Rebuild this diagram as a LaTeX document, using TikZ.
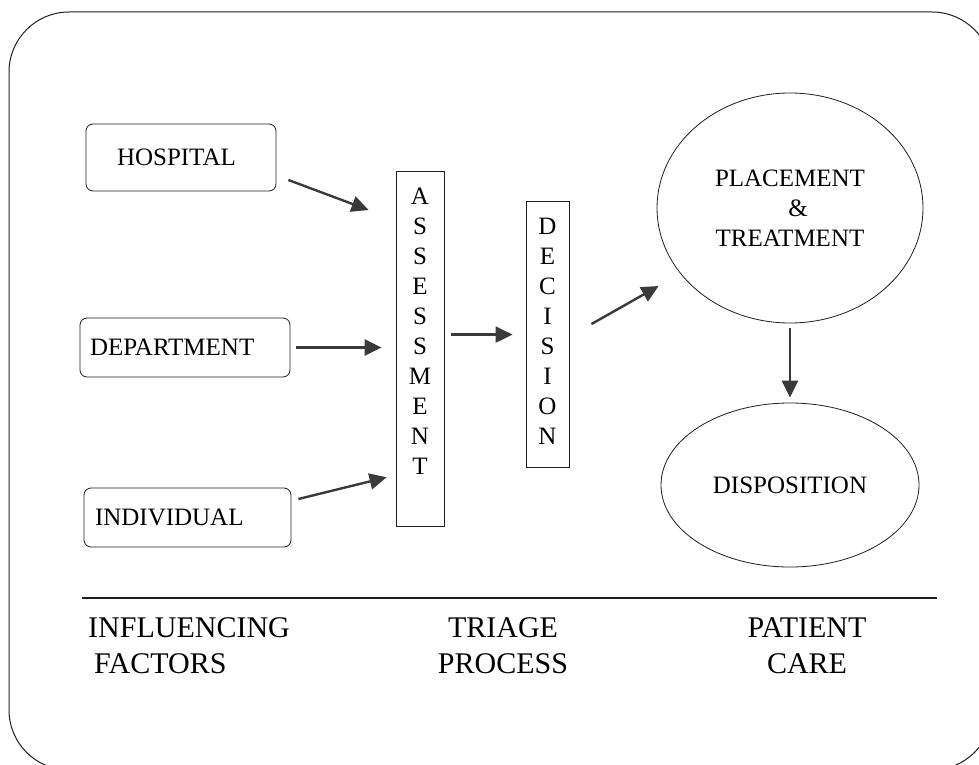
\documentclass[tikz,border=0pt]{standalone}
\usepackage{fontspec}
\setmainfont{Liberation Serif}
\usepackage{tikz}
\usetikzlibrary{positioning,arrows.meta,shapes.geometric,calc}
\usepackage{xcolor}
\definecolor{ink}{HTML}{1E1E1E}
\definecolor{arrowgray}{HTML}{3A3A3A}

\begin{document}
\begin{tikzpicture}[x=1pt, y=-1pt,
    factor/.style={draw=ink, line width=0.8pt, rounded corners=7pt, align=left, inner ysep=0pt,
      font=\fontsize{25}{30}\selectfont},
    column/.style={draw=ink, line width=0.8pt, anchor=north, align=center, inner xsep=0pt, inner ysep=17pt,
      font=\fontsize{25}{30}\selectfont},
    care/.style={draw=ink, line width=0.8pt, ellipse, inner sep=0pt, align=center,
      font=\fontsize{25}{30}\selectfont},
    heading/.style={align=center, inner sep=0pt, font=\fontsize{30}{36}\selectfont},
    flow/.style={draw=arrowgray, line width=2.4pt, -{Triangle[length=17pt, width=16pt]}}]
  \useasboundingbox (0,0) rectangle (979,765);
  \clip (0,0) rectangle (979,765);
  % frame and divider
  \draw[ink, line width=1pt, rounded corners=60pt] (9,12) rectangle (992,770);
  \draw[ink, line width=1.2pt] (82,598) -- (937,598);

  % influencing factors
  \node[factor, minimum height=67pt, text width=128pt, inner xsep=31pt] (hosp) at (181,157.5) {HOSPITAL};
  \node[factor, minimum height=59pt, text width=190pt, inner xsep=10pt] (dept) at (185,347.5) {DEPARTMENT};
  \node[factor, minimum height=59pt, text width=185pt, inner xsep=11pt] (indiv) at (187.5,517.5) {INDIVIDUAL};

  % triage process
  \node[column, minimum width=48pt] (assess) at (420,171)
    {A\\S\\S\\E\\S\\S\\M\\E\\N\\T\rule[-34pt]{0pt}{34pt}};
  \node[column, minimum width=43pt] (decis) at (547.5,201)
    {D\\E\\C\\I\\S\\I\\O\\N\rule[-6pt]{0pt}{6pt}};

  % patient care
  \node[care, minimum width=266pt, minimum height=230pt] (place) at (790,208)
    {PLACEMENT\\\hspace*{16pt}\&\\TREATMENT};
  \node[care, minimum width=258pt, minimum height=164pt] (dispo) at (790,485) {DISPOSITION};

  % column headings
  \node[heading, anchor=west, align=left] (infl) at (88,646) {INFLUENCING\\\hspace*{6pt}FACTORS};
  \node[heading] (triage) at (503,646) {TRIAGE\\PROCESS};
  \node[heading] (patient) at (807,646) {PATIENT\\CARE};

  % arrows
  \draw[flow] ($(hosp.east)+(12,22.5)$) -- ($(assess.north west)+(-27,39)$);
  \draw[flow] ([xshift=6pt]dept.east) -- ([xshift=-14pt]dept.east -| assess.west);
  \draw[flow] ($(indiv.east)+(7,-18.5)$) -- ($(assess.south west)+(-9,-49)$);
  \draw[flow] ([xshift=7pt]assess.east |- decis.west) -- ([xshift=-13pt]decis.west);
  \draw[flow] ($(decis.east)+(22,-10.5)$) -- ($(place.west)+(2,78)$);
  \draw[flow, shorten <=5pt, shorten >=5pt] (place.south) -- (dispo.north);
\end{tikzpicture}
\end{document}
